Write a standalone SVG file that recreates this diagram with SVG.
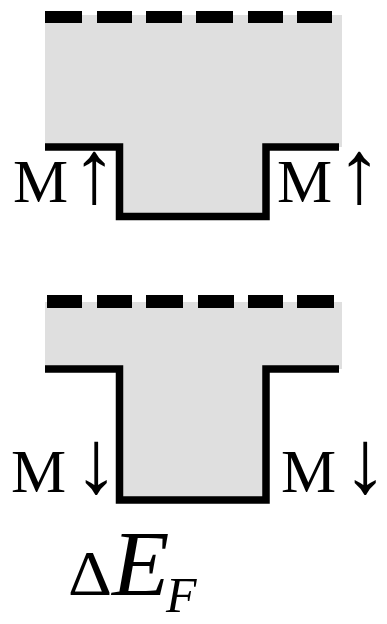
<svg xmlns="http://www.w3.org/2000/svg" width="387" height="624" viewBox="0 0 387 624">
<style>
.fill{fill:#dfdfdf;stroke:none}
.edge{fill:none;stroke:#000;stroke-width:7.5;stroke-linejoin:miter;stroke-linecap:butt}
.dash{fill:#000}
.lbl{font-family:"Liberation Serif","Times New Roman",serif;font-size:62px;fill:#000}
.arr{font-family:"Liberation Serif","Times New Roman",serif;font-size:90px;fill:#000;text-anchor:middle}
.ef{font-family:"Liberation Serif","Times New Roman",serif;font-style:italic;fill:#000}
</style>
<rect width="387" height="624" fill="#fff"/>
<g id="panel-up">
<polygon class="fill" points="45,15 342,15 342,147 266,147 266,216.5 119.5,216.5 119.5,147 45,147"/>
<g class="dash">
<rect x="45" y="11" width="37" height="12"/>
<rect x="97" y="11" width="35" height="12"/>
<rect x="146" y="11" width="36" height="12"/>
<rect x="196" y="11" width="37" height="12"/>
<rect x="248" y="11" width="35" height="12"/>
<rect x="297" y="11" width="35" height="12"/>
</g>
<polyline class="edge" points="45,147 119.5,147 119.5,216.5 266,216.5 266,147 339,147"/>
<text class="lbl" x="13" y="202">M</text>
<text class="arr" x="94" y="202">↑</text>
<text class="lbl" x="277" y="202">M</text>
<text class="arr" x="359" y="202">↑</text>
</g>
<g id="panel-down">
<polygon class="fill" points="45,302 342,302 342,369 266,369 266,500 119.5,500 119.5,369 45,369"/>
<g class="dash">
<rect x="47" y="295" width="35" height="13"/>
<rect x="97" y="295" width="35" height="13"/>
<rect x="146" y="295" width="37" height="13"/>
<rect x="198" y="295" width="36" height="13"/>
<rect x="248" y="295" width="35" height="13"/>
<rect x="297" y="295" width="37" height="13"/>
</g>
<polyline class="edge" points="45,369 119.5,369 119.5,500 266,500 266,369 339,369"/>
<text class="lbl" x="11" y="492">M</text>
<text class="arr" x="96" y="492">↓</text>
<text class="lbl" x="281" y="492">M</text>
<text class="arr" x="365" y="492">↓</text>
</g>
<g id="label-ef">
<text x="68" y="595" style="font-family:'Liberation Serif','Times New Roman',serif;font-size:64px" textLength="44" lengthAdjust="spacingAndGlyphs">Δ</text>
<text class="ef" x="112" y="595" font-size="94">E</text>
<text class="ef" x="166" y="612" font-size="50">F</text>
</g>
</svg>
